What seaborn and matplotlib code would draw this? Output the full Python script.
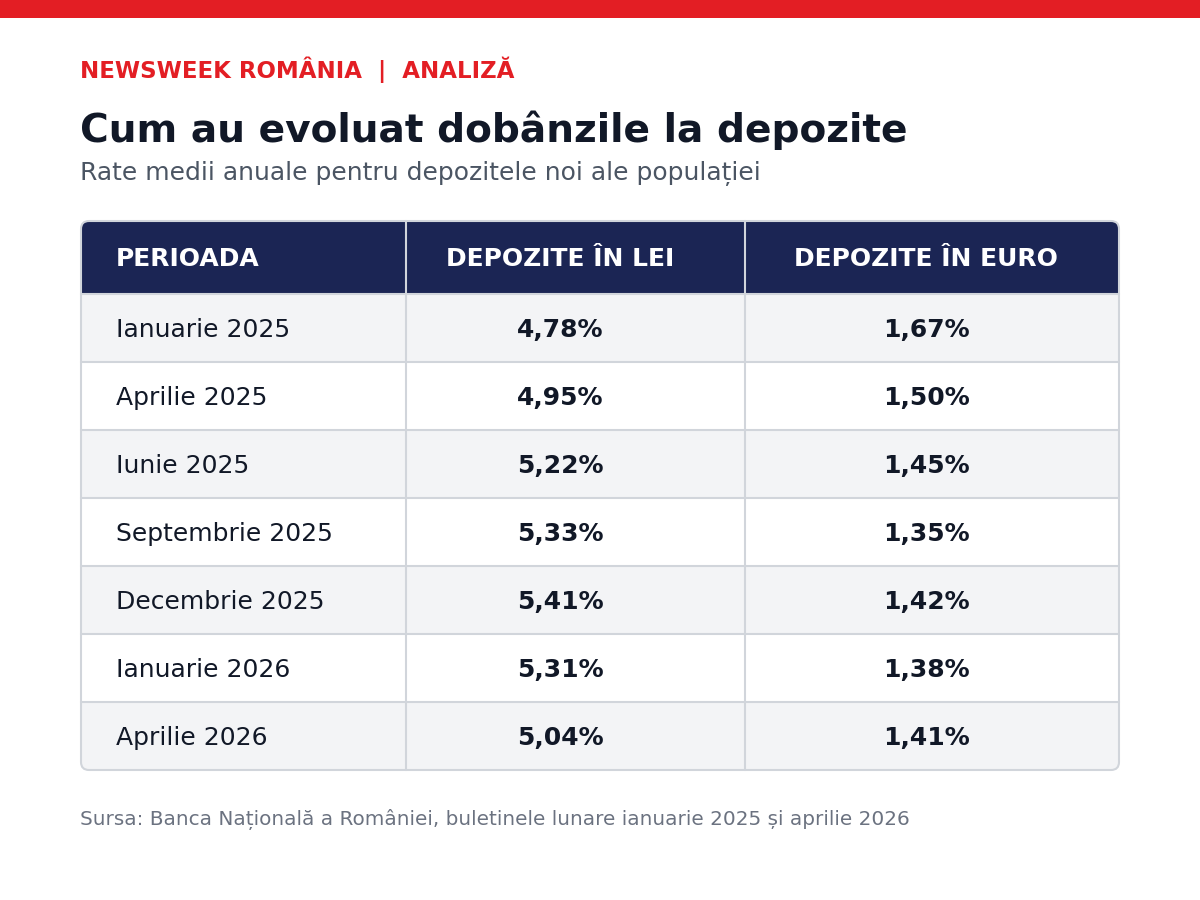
import matplotlib
matplotlib.use("Agg")
import matplotlib.pyplot as plt
from matplotlib.patches import Rectangle, FancyBboxPatch
import seaborn as sns

# ---- data ----
periods = ["Ianuarie 2025", "Aprilie 2025", "Iunie 2025", "Septembrie 2025",
           "Decembrie 2025", "Ianuarie 2026", "Aprilie 2026"]
lei = [4.78, 4.95, 5.22, 5.33, 5.41, 5.31, 5.04]
euro = [1.67, 1.50, 1.45, 1.35, 1.42, 1.38, 1.41]
headers = ["PERIOADA", "DEPOZITE ÎN LEI", "DEPOZITE ÎN EURO"]

kicker = "NEWSWEEK ROMÂNIA  |  ANALIZĂ"
title = "Cum au evoluat dobânzile la depozite"
subtitle = "Rate medii anuale pentru depozitele noi ale populației"
source = "Sursa: Banca Națională a României, buletinele lunare ianuarie 2025 și aprilie 2026"

def fmt(v):
    return f"{v:.2f}".replace(".", ",") + "%"

sns.set_theme(style="white")
plt.rcParams['font.family'] = ['DejaVu Sans']

RED = "#e31e24"
NAVY = "#1b2554"
DARK = "#111827"
GRID = "#d1d5db"
STRIPE = "#f3f4f6"

fig = plt.figure(figsize=(12, 9), dpi=100)
ax = fig.add_axes([0, 0, 1, 1])
ax.set_xlim(0, 1200)
ax.set_ylim(900, 0)
ax.axis("off")

# top bar
ax.add_patch(Rectangle((0, 0), 1200, 18, color=RED, lw=0))

ax.text(80, 70, kicker, color=RED, fontsize=16.5, fontweight="bold", va="center", ha="left")
ax.text(80, 130, title, color=DARK, fontsize=28.2, fontweight="bold", va="center", ha="left")
ax.text(80, 174, subtitle, color="#4b5563", fontsize=18, va="center", ha="left")

# table geometry
x0, x1 = 81, 1119
cols = [81, 406, 745, 1119]
top, head_h, row_h = 221, 73, 68
nrows = len(periods)
bottom = top + head_h + row_h * nrows

outline = FancyBboxPatch((x0, top), x1 - x0, bottom - top,
                         boxstyle="round,pad=0,rounding_size=8",
                         fc="white", ec="none", zorder=1)
ax.add_patch(outline)

head = Rectangle((x0, top), x1 - x0, head_h, fc=NAVY, ec="none", zorder=2)
ax.add_patch(head)
head.set_clip_path(outline)

for i in range(nrows):
    y = top + head_h + i * row_h
    r = Rectangle((x0, y), x1 - x0, row_h, fc=STRIPE if i % 2 == 0 else "white",
                  ec="none", zorder=2)
    ax.add_patch(r)
    r.set_clip_path(outline)
    if i > 0:
        ax.plot([x0, x1], [y, y], color=GRID, lw=1.5, zorder=3)

ax.plot([x0, x1], [top + head_h, top + head_h], color=GRID, lw=1.5, zorder=3)
for cx in cols[1:3]:
    ax.plot([cx, cx], [top, bottom], color=GRID, lw=1.5, zorder=3)

border = FancyBboxPatch((x0, top), x1 - x0, bottom - top,
                        boxstyle="round,pad=0,rounding_size=8",
                        fc="none", ec=GRID, lw=1.5, zorder=4)
ax.add_patch(border)

# header text
hy = top + head_h / 2 + 2
centers = [116, 560, 926]
ax.text(centers[0], hy, headers[0], color="white", fontsize=18, fontweight="bold",
        va="center", ha="left", zorder=5)
ax.text(centers[1], hy, headers[1], color="white", fontsize=18, fontweight="bold",
        va="center", ha="center", zorder=5)
ax.text(centers[2], hy, headers[2], color="white", fontsize=18, fontweight="bold",
        va="center", ha="center", zorder=5)

for i, (p, a, b) in enumerate(zip(periods, lei, euro)):
    y = top + head_h + i * row_h + row_h / 2 + 2
    ax.text(centers[0], y, p, color=DARK, fontsize=18, va="center", ha="left", zorder=5)
    ax.text(centers[1], y, fmt(a), color=DARK, fontsize=18, fontweight="bold",
            va="center", ha="center", zorder=5)
    ax.text(centers[2], y, fmt(b), color=DARK, fontsize=18, fontweight="bold",
            va="center", ha="center", zorder=5)

ax.text(80, 820, source, color="#6b7280", fontsize=14.4, va="center", ha="left")

fig.savefig("out.png", dpi=100, facecolor="white")
